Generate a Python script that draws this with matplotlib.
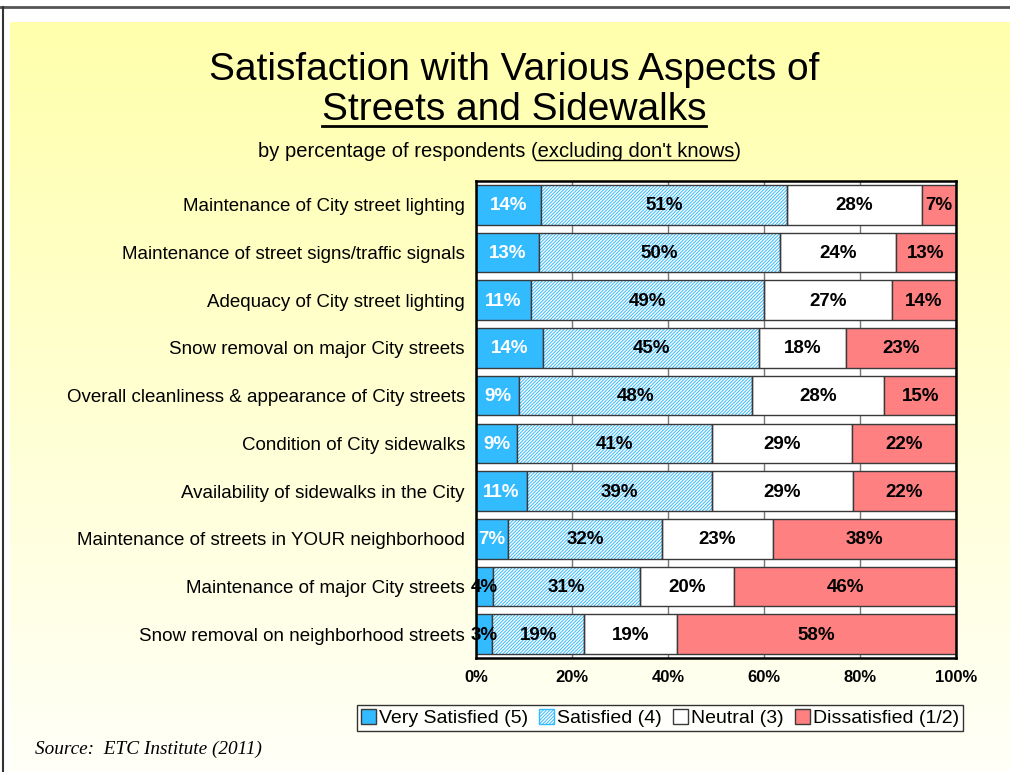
import numpy as np
import matplotlib.pyplot as plt
from matplotlib.patches import Patch
from matplotlib.lines import Line2D

plt.rcParams['font.family'] = ['Liberation Sans', 'DejaVu Sans']
plt.rcParams['hatch.linewidth'] = 0.7

categories = ["Maintenance of City street lighting",
              "Maintenance of street signs/traffic signals",
              "Adequacy of City street lighting",
              "Snow removal on major City streets",
              "Overall cleanliness & appearance of City streets",
              "Condition of City sidewalks",
              "Availability of sidewalks in the City",
              "Maintenance of streets in YOUR neighborhood",
              "Maintenance of major City streets",
              "Snow removal on neighborhood streets"]

very_satisfied = [13.6, 13.1, 11.4, 14.0, 9.0, 8.6, 10.6, 6.7, 3.6, 3.3]
satisfied      = [51.1, 50.2, 48.6, 45.0, 48.4, 40.6, 38.6, 32.1, 30.6, 19.3]
neutral        = [28.3, 24.1, 26.7, 18.0, 27.7, 29.1, 29.3, 23.0, 19.6, 19.2]
dissatisfied   = [7.0, 12.6, 13.6, 23.0, 14.9, 21.7, 21.6, 38.3, 46.2, 58.2]

series = ["Very Satisfied (5)", "Satisfied (4)", "Neutral (3)", "Dissatisfied (1/2)"]
xticks = [0, 20, 40, 60, 80, 100]

blue = "#33bbff"
red = "#ff8080"
edge = "#3a3a3a"
hatch = "//////////"

W, H = 1010, 772
fig = plt.figure(figsize=(W / 100, H / 100), dpi=100)
fig.patch.set_facecolor("white")

# yellow gradient background
bg = fig.add_axes([10 / W, 0, 1 - 10 / W, 1 - 22 / H], zorder=-5)
grad = np.linspace(0, 1, 256)[:, None]
cols = np.zeros((256, 1, 3))
cols[..., 0] = 1.0
cols[..., 1] = 1.0
cols[..., 2] = (172 + (248 - 172) * grad) / 255
bg.imshow(cols, aspect="auto", extent=[0, 1, 0, 1])
bg.axis("off")

fig.add_artist(Line2D([0, 1], [1 - 7 / H] * 2, color="#555555", lw=2, transform=fig.transFigure))
fig.add_artist(Line2D([3 / W] * 2, [0, 1 - 7 / H], color="#333333", lw=1.5, transform=fig.transFigure))

ax = fig.add_axes([476 / W, 1 - 658 / H, 480 / W, 477 / H])
ax.set_facecolor("white")

n = len(categories)
y = np.arange(n)[::-1]
h = 0.83

vs = np.array(very_satisfied)
sa = np.array(satisfied)
ne = np.array(neutral)
di = np.array(dissatisfied)

ax.barh(y, vs, height=h, color=blue, edgecolor=edge, lw=1, zorder=3)
ax.barh(y, sa, left=vs, height=h, color="white", edgecolor=blue, hatch=hatch, lw=0, zorder=3)
ax.barh(y, sa, left=vs, height=h, fill=False, edgecolor=edge, lw=1, zorder=4)
ax.barh(y, ne, left=vs + sa, height=h, color="white", edgecolor=edge, lw=1, zorder=3)
ax.barh(y, di, left=vs + sa + ne, height=h, color=red, edgecolor=edge, lw=1, zorder=3)

lefts = [np.zeros(n), vs, vs + sa, vs + sa + ne]
for vals, left, k in zip([vs, sa, ne, di], lefts, range(4)):
    for i in range(n):
        v = vals[i]
        c = "white" if (k == 0 and v >= 5) else "black"
        cx = min(left[i] + v / 2, (left[i] + 100) / 2)
        ax.text(cx, y[i] - 0.02, f"{v:.0f}%", ha="center", va="center", color=c,
                fontsize=13.5, fontweight="bold", zorder=6)

ax.set_xlim(0, 100)
ax.set_ylim(-0.5, n - 0.5)
ax.set_yticks(y)
ax.set_yticklabels(categories, fontsize=13.5)
ax.set_xticks(xticks)
ax.set_xticklabels([f"{t}%" for t in xticks], fontsize=12, fontweight="bold")
ax.tick_params(axis="y", length=0, pad=8)
ax.tick_params(axis="x", length=0, pad=9)
ax.grid(axis="x", color="#777777", lw=1, zorder=0)
for s in ax.spines.values():
    s.set_color("black")
    s.set_linewidth(1.8)
    s.set_zorder(7)

handles = [Patch(facecolor=blue, edgecolor=edge),
           Patch(facecolor="white", edgecolor=blue, hatch=hatch),
           Patch(facecolor="white", edgecolor=edge),
           Patch(facecolor=red, edgecolor=edge)]
leg = fig.legend(handles, series, loc="upper right", bbox_to_anchor=(963 / W, 1 - 705 / H),
                 ncol=4, fontsize=14, frameon=True, fancybox=False, handlelength=0.8,
                 handleheight=0.8, handletextpad=0.15, columnspacing=0.55, borderpad=0.2,
                 borderaxespad=0)
leg.get_frame().set_edgecolor("black")
leg.get_frame().set_linewidth(1)

# titles
t1 = fig.text(514 / W, 1 - 80 / H, "Satisfaction with Various Aspects of", ha="center",
              va="baseline", fontsize=28)
t2 = fig.text(514 / W, 1 - 120 / H, "Streets and Sidewalks", ha="center",
              va="baseline", fontsize=28)
sub_pre = "by percentage of respondents ("
sub_mid = "excluding don't knows"
sub_full = sub_pre + sub_mid + ")"
t3 = fig.text(499 / W, 1 - 157 / H, sub_full, ha="center", va="baseline", fontsize=14.5)

fig.text(35 / W, 1 - 754 / H, "Source:  ETC Institute (2011)", family="Liberation Serif",
         style="italic", fontsize=13.9)

fig.canvas.draw()
r = fig.canvas.get_renderer()
inv = fig.transFigure.inverted()

b2 = t2.get_window_extent(r)
x0, _ = inv.transform((b2.x0, 0))
x1, _ = inv.transform((b2.x1, 0))
fig.add_artist(Line2D([x0, x1], [1 - 126 / H] * 2, color="black", lw=2, transform=fig.transFigure))

b3 = t3.get_window_extent(r)
tmp = fig.text(0, 0, sub_pre, fontsize=14.5)
wpre = tmp.get_window_extent(r).width
tmp.set_text(sub_mid)
wmid = tmp.get_window_extent(r).width
tmp.remove()
ux0, _ = inv.transform((b3.x0 + wpre, 0))
ux1, _ = inv.transform((b3.x0 + wpre + wmid, 0))
fig.add_artist(Line2D([ux0, ux1], [1 - 160 / H] * 2, color="black", lw=1, transform=fig.transFigure))

plt.savefig("out.png", dpi=100)
